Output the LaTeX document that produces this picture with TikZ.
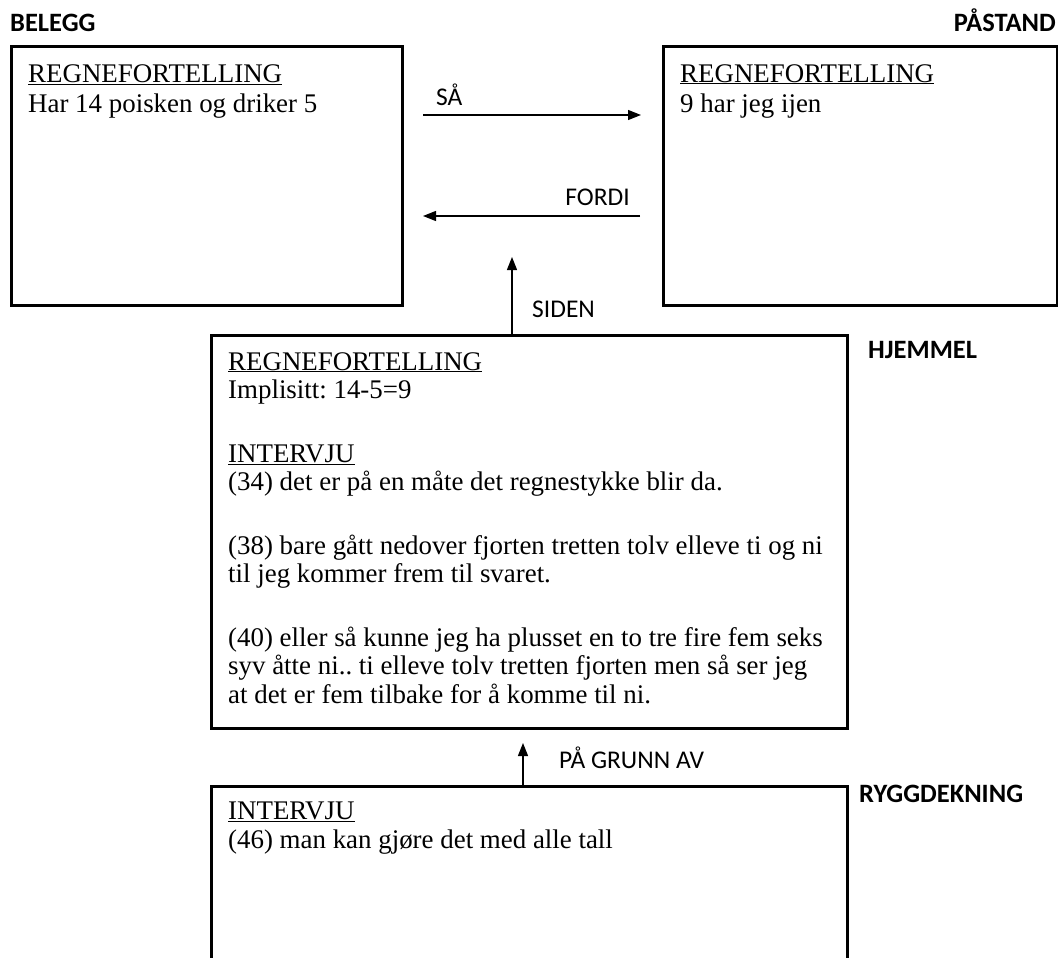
\documentclass[tikz,border=0pt]{standalone}
\usepackage{fontspec}
\setmainfont{Liberation Serif}
\newfontfamily\labfont{Carlito}
\usetikzlibrary{arrows.meta}
\frenchspacing
\tikzset{
  box/.style={draw, line width=2.6pt, anchor=north west, inner sep=0pt, rectangle},
  txt/.style={anchor=base west, inner sep=0pt, font=\frenchspacing\fontsize{26.9}{29}\selectfont},
  role/.style={inner sep=0pt, font=\labfont\bfseries\fontsize{26.5}{30}\selectfont},
  conn/.style={inner sep=0pt, font=\labfont\fontsize{25.5}{30}\selectfont, anchor=base west},
  arr/.style={line width=1.3pt, -{Triangle[length=13pt,width=10pt]}}
}
\begin{document}
\begin{tikzpicture}[x=1pt,y=-1pt]
\useasboundingbox (0,0) rectangle (1058,958);
\clip (0,0) rectangle (1058,958);
% boxes
\node[box, minimum width=391pt, minimum height=259pt] (belegg) at (10,45) {};
\node[box, minimum width=394pt, minimum height=259pt] (pastand) at (662,45) {};
\node[box, minimum width=636pt, minimum height=393pt] (hjemmel) at (210,334) {};
\node[box, minimum width=636pt, minimum height=250pt] (rygg) at (210,785) {};
% role labels
\node[role, anchor=base west] (lbelegg) at (10,32) {BELEGG};
\node[role, anchor=base east] (lpastand) at (1056,32) {PÅSTAND};
\node[role, anchor=base west] (lhjemmel) at (868,358) {HJEMMEL};
\node[role, anchor=base west] (lrygg) at (859,802) {RYGGDEKNING};
% belegg text
\node[txt] (b1) at (28,83) {\underline{REGNEFORTELLING}};
\node[txt] (b2) at (28,113) {Har 14 poisken og driker 5};
% pastand text
\node[txt] (p1) at (680,82) {\underline{REGNEFORTELLING}};
\node[txt] (p2) at (680,112) {9 har jeg ijen};
% hjemmel text
\node[txt] (h1) at (228,370) {\underline{REGNEFORTELLING}};
\node[txt] (h2) at (228,398.5) {Implisitt: 14-5=9};
\node[txt] (h3) at (228,462) {\underline{INTERVJU}};
\node[txt] (h4) at (228,490.5) {(34) det er på en måte det regnestykke blir da.};
\node[txt] (h5) at (228,554) {(38) bare gått nedover fjorten tretten tolv elleve ti og ni};
\node[txt] (h6) at (228,582.5) {til jeg kommer frem til svaret.};
\node[txt] (h7) at (228,646) {(40) eller så kunne jeg ha plusset en to tre fire fem seks};
\node[txt] (h8) at (228,674.5) {syv åtte ni.. ti elleve tolv tretten fjorten men så ser jeg};
\node[txt] (h9) at (228,703) {at det er fem tilbake for å komme til ni.};
% ryggdekning text
\node[txt] (r1) at (228,819) {\underline{INTERVJU}};
\node[txt] (r2) at (228,848) {(46) man kan gjøre det med alle tall};
% connector ends
\coordinate (saA) at (423,115);
\coordinate (saB) at (641,115);
\coordinate (foA) at (640,216);
\coordinate (foB) at (423,216);
\coordinate (siTip) at (512,257);
\coordinate (pgTip) at (523,743);
% connectors
\draw[arr] (saA) -- (saB);
\draw[arr] (foA) -- (foB);
\draw[arr] (hjemmel.north -| siTip) -- (siTip);
\draw[arr] (rygg.north -| pgTip) -- (pgTip);
% connector labels
\node[conn] (lsa) at (436,105) {SÅ};
\node[conn, anchor=base east] (lfordi) at (630,205) {FORDI};
\node[conn] (lsiden) at (532,317) {SIDEN};
\node[conn] (lgrunn) at (559,768) {PÅ GRUNN AV};
\end{tikzpicture}
\end{document}
